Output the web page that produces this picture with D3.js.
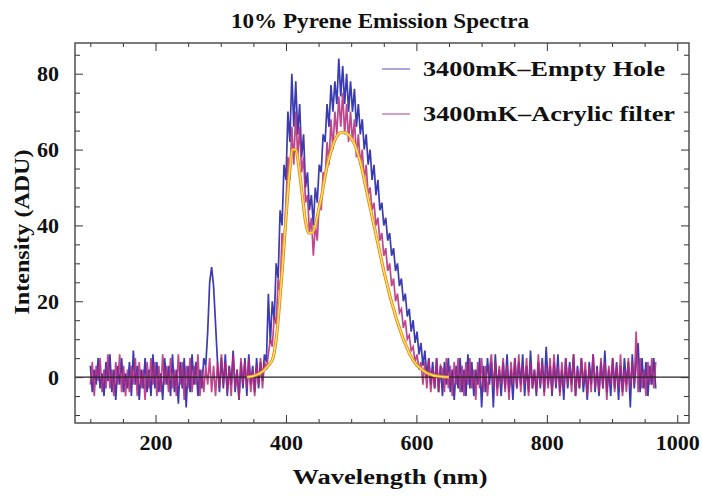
<!DOCTYPE html>
<html>
<head>
<meta charset="utf-8">
<script src="https://cdn.jsdelivr.net/npm/d3@7"></script>
<style>
  body { margin: 0; background: #fff; }
  text { font-family: "Liberation Serif", "Times New Roman", serif; font-weight: bold; fill: #111; }
</style>
</head>
<body>
<script>
// Data (wavelength grid every 3 nm, 100..967)
const wavelengths = d3.range(100, 969, 3);

const emptyHole = [
  3, -4, 2, -2, 5, -3, 1, -5, 4, -1,
  6, -4, 2, -6, 3, -2, 5, -4, 1, -3,
  4, -5, 7, -2, 3, -6, 2, -3, 5, -4,
  2, -5, 6, -3, 4, -4, 1, -6, 5, -2,
  3, -5, 6, -4, 2, -7, 4, -3, 5, -8,
  3, -4, 6, -2, 4, -5, 2, -3, 5, 3,
  12, 25, 29, 24, 14, 4, -4, 5, -3, 6,
  -5, 3, -2, 7, -4, 2, -6, 4, -3, 5,
  -5, 6, -2, 3, -4, 5, -3, 4, -1, 6,
  4, 22, 9, 20, 15, 30, 26, 44, 40, 56,
  52, 70, 62, 80, 66, 78, 64, 72, 58, 64,
  50, 54, 44, 48, 40, 50, 46, 56, 54, 64,
  62, 72, 66, 77, 70, 78, 72, 84, 74, 82,
  72, 80, 70, 78, 70, 76, 66, 72, 64, 68,
  60, 64, 56, 60, 52, 56, 48, 52, 44, 46,
  40, 42, 36, 38, 32, 34, 28, 30, 24, 26,
  20, 22, 16, 18, 12, 15, 9, 12, 6, 9,
  3, 7, 0, 5, -2, 4, -3, 5, -4, 3,
  -5, 4, -2, 5, -4, 2, -6, 3, -3, 5,
  -4, 2, -5, 6, -3, 4, -5, 2, -2, 5,
  -8, 3, -4, 5, -2, 4, -8, 6, -3, 2,
  -5, 4, -3, 6, -4, 2, -6, 5, -3, 4,
  -2, 6, -5, 3, -4, 7, -3, 2, -5, 4,
  -3, 5, -4, 8, -2, 3, -5, 4, -3, 6,
  -4, 2, -6, 5, -3, 4, -2, 6, -5, 3,
  -3, 5, -4, 2, -6, 4, -2, 6, -4, 3,
  -5, 4, -3, 7, -4, 2, -5, 5, -3, 4,
  -6, 3, -4, 5, -2, 4, -8, 6, -3, 4,
  9, -4, 5, -3, 4, -5, 3, -2, 5, -3
];

const acrylicFilter = [
  -2, 4, -5, 3, -1, 5, -4, 2, -3, 6,
  -3, 2, -5, 4, -2, 6, -4, 3, -5, 2,
  -4, 3, -2, 5, -5, 4, -3, 2, -6, 4,
  -3, 5, -2, 4, -5, 3, -4, 6, -2, 3,
  -4, 5, -3, 2, -5, 6, -2, 4, -6, 3,
  -3, 5, -4, 3, -2, 6, -5, 2, -4, 3,
  -2, 5, -4, 3, -5, 4, -3, 6, -2, 4,
  -4, 3, -5, 6, -3, 2, -6, 5, -2, 4,
  -3, 5, -4, 2, -5, 3, -2, 5, -3, 4,
  2, 6, 10, 8, 16, 14, 26, 22, 38, 34,
  46, 58, 52, 66, 56, 70, 58, 66, 54, 58,
  46, 48, 38, 42, 32, 40, 36, 46, 44, 54,
  52, 62, 56, 68, 60, 70, 64, 74, 66, 75,
  64, 72, 62, 70, 62, 68, 58, 64, 56, 60,
  52, 56, 48, 50, 44, 46, 40, 42, 36, 38,
  32, 34, 28, 30, 24, 26, 20, 22, 17, 18,
  13, 15, 10, 11, 7, 8, 4, 6, 2, 4,
  -2, 4, -3, 5, -4, 2, -3, 5, -4, 3,
  2, -4, 5, -3, 3, -5, 4, -2, 5, -4,
  3, -5, 4, -2, 5, -3, 2, -6, 4, -3,
  5, -4, 3, -5, 2, 6, -3, 4, -5, 3,
  -2, 5, -4, 3, -6, 4, -2, 5, -3, 6,
  -4, 3, -2, 5, -5, 4, -3, 2, -4, 6,
  -2, 4, -5, 3, -3, 5, -4, 6, -2, 3,
  -5, 4, -3, 5, -2, 3, -4, 6, -5, 2,
  -3, 5, -2, 4, -5, 3, -4, 6, -3, 2,
  -4, 5, -3, 4, -6, 3, -2, 5, -4, 3,
  -3, 6, -5, 2, -4, 5, -3, 4, -2, 12,
  -4, 5, -3, 2, -5, 4, -2, 5, -3, 4
];

// smooth fit curve
const fitWavelengths = [340, 350, 360, 365, 370, 375, 380, 385, 390, 395, 400, 405, 410, 415, 420,
  425, 430, 435, 440, 445, 450, 455, 460, 465, 470, 475, 480, 485, 490, 495, 500, 505, 510,
  515, 520, 525, 530, 535, 540, 545, 550, 555, 560, 565, 570, 575, 580, 585, 590, 595, 600,
  605, 610, 615, 620, 625, 630, 640, 650];
const fitValues = [0, 0.3, 1, 1.6, 2.5, 3.5, 5, 10, 19, 30, 42, 53, 60, 60, 55,
  48, 41, 38, 38, 40, 44, 48, 53, 57, 60, 62.5, 64, 64.5, 64.5, 64, 63, 61.5, 59,
  56, 52, 48, 44, 40, 36, 32, 28, 24.5, 21, 18, 15, 12.5, 10, 8, 6, 4.5, 3.3,
  2.5, 1.8, 1.2, 0.8, 0.5, 0.3, 0.1, 0];

const xMajor = [200, 400, 600, 800, 1000];
const xMinor = [100, 150, 250, 300, 350, 450, 500, 550, 650, 700, 750, 850, 900, 950];
const yMajor = [0, 20, 40, 60, 80];
const yMinor = [-10, -5, 5, 10, 15, 25, 30, 35, 45, 50, 55, 65, 70, 75, 85];

const seriesNames = ["3400mK\u2013Empty Hole", "3400mK\u2013Acrylic filter"];
const seriesColors = ["#3b3bb2", "#b0287a"];

const W = 702, H = 496;
const frame = { left: 75, right: 689, top: 43, bottom: 423 };

const svg = d3.select("body").append("svg")
  .attr("width", W)
  .attr("height", H);

let x = d3.scaleLinear().domain([76.5, 1018]).range([frame.left, frame.right]);
let y = d3.scaleLinear().domain([-12.1, 88.1]).range([frame.bottom, frame.top]);

svg.append("clipPath").attr("id", "clip")
  .append("rect")
  .attr("x", frame.left).attr("y", frame.top)
  .attr("width", frame.right - frame.left).attr("height", frame.bottom - frame.top);

let plot = svg.append("g").attr("clip-path", "url(#clip)");

let line = d3.line()
  .x((d) => x(d[0]))
  .y((d) => y(d[1]));

// noisy spectra
plot.append("path")
  .datum(wavelengths.map((w, i) => [w, emptyHole[i]]))
  .attr("d", line)
  .attr("fill", "none")
  .attr("stroke", seriesColors[0])
  .attr("stroke-width", 1.7);

plot.append("path")
  .datum(wavelengths.map((w, i) => [w, acrylicFilter[i]]))
  .attr("d", line)
  .attr("fill", "none")
  .attr("stroke", seriesColors[1])
  .attr("stroke-opacity", 0.85)
  .attr("stroke-width", 1.7);

// zero line
plot.append("line")
  .attr("x1", frame.left).attr("x2", frame.right)
  .attr("y1", y(0)).attr("y2", y(0))
  .attr("stroke", "#222")
  .attr("stroke-width", 1.3);

// fit curve: orange edge + yellow core
let smooth = d3.line()
  .x((d) => x(d[0]))
  .y((d) => y(d[1]))
  .curve(d3.curveMonotoneX);
let fitData = fitWavelengths.map((w, i) => [w, fitValues[i]]);

plot.append("path")
  .datum(fitData)
  .attr("d", smooth)
  .attr("fill", "none")
  .attr("stroke", "#e08a2a")
  .attr("stroke-width", 3.2);
plot.append("path")
  .datum(fitData)
  .attr("d", smooth)
  .attr("fill", "none")
  .attr("stroke", "#ffe45a")
  .attr("stroke-width", 1.4);

// axes
function styleAxis(g) {
  g.select(".domain").remove();
  g.selectAll("line").attr("stroke", "#333").attr("stroke-width", 1);
  g.selectAll("text").style("font-size", "22px").attr("fill", "#111");
}

svg.append("g")
  .attr("transform", "translate(0," + frame.bottom + ")")
  .call(d3.axisBottom(x).tickValues(xMajor).tickFormat(d3.format("d"))
    .tickSizeInner(-8).tickSizeOuter(0).tickPadding(11))
  .call(styleAxis);
svg.append("g")
  .attr("transform", "translate(0," + frame.bottom + ")")
  .call(d3.axisBottom(x).tickValues(xMinor).tickSizeInner(-4).tickSizeOuter(0).tickFormat(""))
  .call(styleAxis);
svg.append("g")
  .attr("transform", "translate(0," + frame.top + ")")
  .call(d3.axisTop(x).tickValues(xMajor).tickSizeInner(-8).tickSizeOuter(0).tickFormat(""))
  .call(styleAxis);
svg.append("g")
  .attr("transform", "translate(0," + frame.top + ")")
  .call(d3.axisTop(x).tickValues(xMinor).tickSizeInner(-4).tickSizeOuter(0).tickFormat(""))
  .call(styleAxis);

svg.append("g")
  .attr("transform", "translate(" + frame.left + ",0)")
  .call(d3.axisLeft(y).tickValues(yMajor).tickSizeInner(-8).tickSizeOuter(0).tickPadding(16))
  .call(styleAxis);
svg.append("g")
  .attr("transform", "translate(" + frame.left + ",0)")
  .call(d3.axisLeft(y).tickValues(yMinor).tickSizeInner(-5).tickSizeOuter(0).tickFormat(""))
  .call(styleAxis);
svg.append("g")
  .attr("transform", "translate(" + frame.right + ",0)")
  .call(d3.axisRight(y).tickValues(yMajor).tickSizeInner(-8).tickSizeOuter(0).tickFormat(""))
  .call(styleAxis);
svg.append("g")
  .attr("transform", "translate(" + frame.right + ",0)")
  .call(d3.axisRight(y).tickValues(yMinor).tickSizeInner(-5).tickSizeOuter(0).tickFormat(""))
  .call(styleAxis);

// frame
svg.append("rect")
  .attr("x", frame.left).attr("y", frame.top)
  .attr("width", frame.right - frame.left).attr("height", frame.bottom - frame.top)
  .attr("fill", "none")
  .attr("stroke", "#444")
  .attr("stroke-width", 1.4);

// title and axis labels
svg.append("text")
  .attr("x", 380).attr("y", 28)
  .attr("text-anchor", "middle")
  .style("font-size", "20px")
  .attr("textLength", 298)
  .attr("lengthAdjust", "spacingAndGlyphs")
  .text("10% Pyrene Emission Spectra");

svg.append("text")
  .attr("x", 390).attr("y", 484)
  .attr("text-anchor", "middle")
  .style("font-size", "20px")
  .attr("textLength", 195)
  .attr("lengthAdjust", "spacingAndGlyphs")
  .text("Wavelength (nm)");

svg.append("text")
  .attr("transform", "translate(29, 232)rotate(-90)")
  .attr("text-anchor", "middle")
  .style("font-size", "20px")
  .attr("textLength", 165)
  .attr("lengthAdjust", "spacingAndGlyphs")
  .text("Intensity (ADU)");

// legend
let legend = svg.append("g");
let legendY = [68, 113];
let legendWidths = [242, 252];
seriesNames.forEach((name, i) => {
  legend.append("line")
    .attr("x1", 382).attr("x2", 410)
    .attr("y1", legendY[i] + 1).attr("y2", legendY[i] + 1)
    .attr("stroke", seriesColors[i])
    .attr("stroke-opacity", 0.6)
    .attr("stroke-width", 1.5);
  legend.append("text")
    .attr("x", 423).attr("y", legendY[i] + 8)
    .style("font-size", "21px")
    .attr("textLength", legendWidths[i])
    .attr("lengthAdjust", "spacingAndGlyphs")
    .text(name);
});
</script>
</body>
</html>
